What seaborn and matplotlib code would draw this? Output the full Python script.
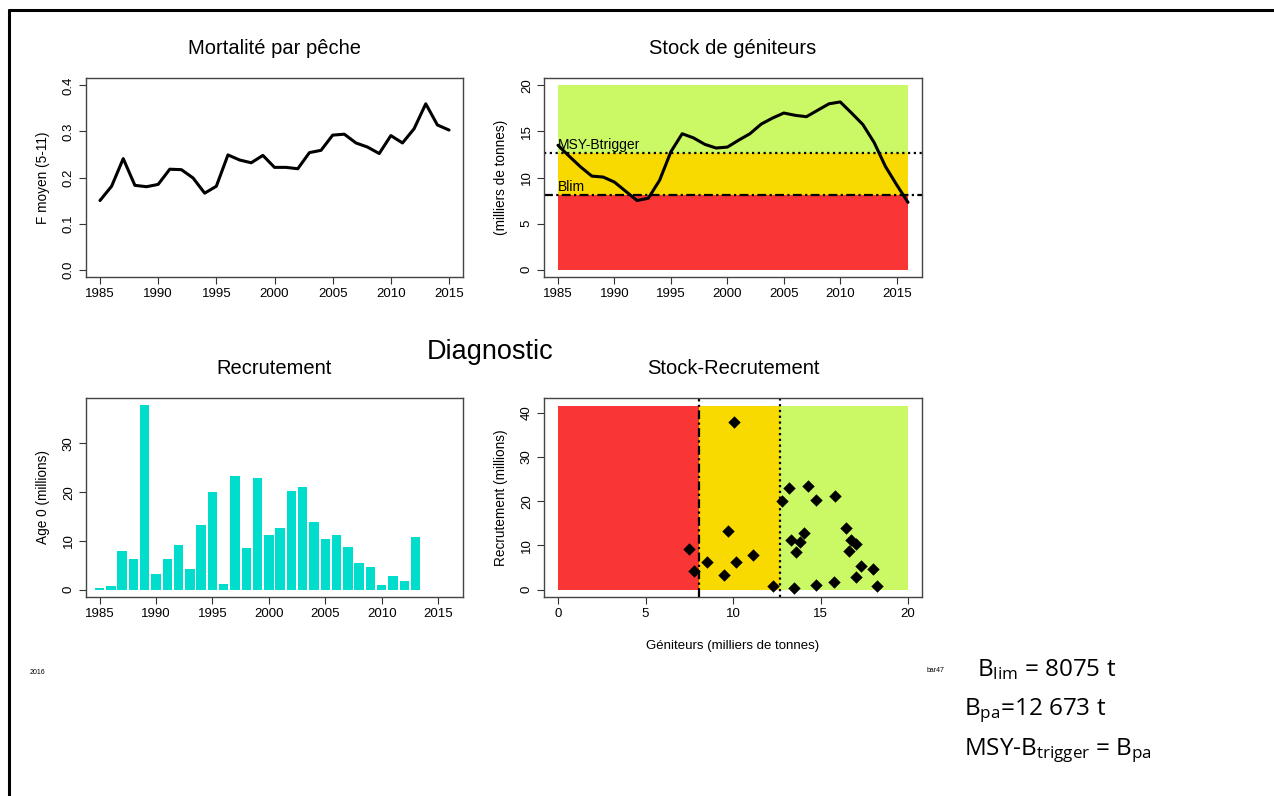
import numpy as np
import pandas as pd
import matplotlib
matplotlib.use("Agg")
import matplotlib.pyplot as plt
from matplotlib.lines import Line2D
import seaborn as sns

# ---------------- data ----------------
years_f = list(range(1985, 2016))
f_mean = [0.150, 0.181, 0.241, 0.183, 0.180, 0.185, 0.218, 0.217, 0.199, 0.166,
          0.181, 0.249, 0.238, 0.232, 0.248, 0.222, 0.222, 0.219, 0.254, 0.259,
          0.292, 0.294, 0.275, 0.266, 0.252, 0.291, 0.275, 0.306, 0.360, 0.314,
          0.303]

years_ssb = list(range(1985, 2017))
ssb = [13.5, 12.3, 11.15, 10.15, 10.05, 9.5, 8.5, 7.5, 7.75, 9.7,
       12.8, 14.75, 14.3, 13.6, 13.2, 13.3, 14.05, 14.75, 15.8, 16.45,
       17.0, 16.75, 16.6, 17.3, 18.0, 18.2, 17.0, 15.75, 13.8, 11.2,
       9.2, 7.3]

years_rec = list(range(1985, 2014))
recruits = [0.4, 0.75, 7.9, 6.2, 37.8, 3.3, 6.2, 9.1, 4.2, 13.2,
            20.1, 1.1, 23.4, 8.5, 23.0, 11.2, 12.7, 20.2, 21.1, 13.9,
            10.3, 11.2, 8.7, 5.4, 4.6, 0.9, 2.9, 1.7, 10.7]

blim = 8.075
bpa = 12.673
year_ticks = [1985, 1990, 1995, 2000, 2005, 2010, 2015]

# ---------------- style ----------------
sns.set_theme(style="white")
plt.rcParams['font.family'] = ['Liberation Sans', 'DejaVu Sans']
plt.rcParams['text.color'] = 'black'
plt.rcParams['axes.labelcolor'] = 'black'
plt.rcParams['axes.titlecolor'] = 'black'
plt.rcParams['xtick.color'] = 'black'
plt.rcParams['ytick.color'] = 'black'
plt.rcParams['axes.edgecolor'] = '#444444'
plt.rcParams['axes.linewidth'] = 1.0

RED = '#F93535'
YEL = '#F9DA00'
GRN = '#CBF966'
BAR = '#00DDCC'

W, H = 1274, 796
fig = plt.figure(figsize=(W / 100, H / 100), dpi=100)


def px_axes(l, t, r, b):
    return fig.add_axes([l / W, 1 - b / H, (r - l) / W, (b - t) / H])


ax1 = px_axes(86, 78, 463, 277)
ax2 = px_axes(544, 78, 922, 277)
ax3 = px_axes(86, 398, 463, 597)
ax4 = px_axes(544, 398, 922, 597)


def style_axes(ax):
    for s in ax.spines.values():
        s.set_visible(True)
        s.set_color('#444444')
        s.set_linewidth(1.0)
    ax.tick_params(axis='both', which='both', direction='out', length=5,
                   width=0.8, color='#333333', labelsize=9.5, pad=3,
                   bottom=True, left=True, labelcolor='black')
    for lab in ax.get_yticklabels():
        lab.set_rotation(90)
        lab.set_va('center')
    ax.grid(False)


title_kw = dict(fontsize=14.5, pad=17)
lab_kw = dict(fontsize=9.8)

# Panel 1: fishing mortality
df_f = pd.DataFrame({'year': years_f, 'F': f_mean})
sns.lineplot(data=df_f, x='year', y='F', ax=ax1, color='black', linewidth=2.2)
ax1.set_xlim(1983.8, 2016.2)
ax1.set_ylim(-0.016, 0.416)
ax1.set_xticks(year_ticks)
ax1.set_yticks([0.0, 0.1, 0.2, 0.3, 0.4])
ax1.set_yticklabels(['0.0', '0.1', '0.2', '0.3', '0.4'])
ax1.set_xlabel('')
ax1.set_ylabel('F moyen (5-11)', **lab_kw, labelpad=9)
ax1.set_title('Mortalité par pêche', **title_kw)
style_axes(ax1)

# Panel 2: SSB
x0, x1 = years_ssb[0], years_ssb[-1]
ax2.fill_between([x0, x1], 0, blim, color=RED, linewidth=0, zorder=0)
ax2.fill_between([x0, x1], blim, bpa, color=YEL, linewidth=0, zorder=0)
ax2.fill_between([x0, x1], bpa, 20, color=GRN, linewidth=0, zorder=0)
ax2.axhline(bpa, color='black', linestyle=(0, (1, 1.6)), linewidth=1.6)
ax2.axhline(blim, color='black', linestyle=(0, (4, 1.5, 1, 1.5)), linewidth=1.6)
df_s = pd.DataFrame({'year': years_ssb, 'ssb': ssb})
sns.lineplot(data=df_s, x='year', y='ssb', ax=ax2, color='black', linewidth=2.2)
ax2.text(x0, bpa + 0.1, 'MSY-Btrigger', fontsize=10, ha='left', va='bottom')
ax2.text(x0, blim + 0.1, 'Blim', fontsize=10, ha='left', va='bottom')
ax2.set_xlim(1983.76, 2017.24)
ax2.set_ylim(-0.8, 20.8)
ax2.set_xticks(year_ticks)
ax2.set_yticks([0, 5, 10, 15, 20])
ax2.set_xlabel('')
ax2.set_ylabel('(milliers de tonnes)', **lab_kw, labelpad=9)
ax2.set_title('Stock de géniteurs', **title_kw)
style_axes(ax2)

# Panel 3: recruitment
df_r = pd.DataFrame({'year': years_rec, 'rec': recruits})
sns.barplot(data=df_r, x='year', y='rec', ax=ax3, native_scale=True,
            color=BAR, saturation=1, width=0.84, errorbar=None,
            edgecolor='none')
ax3.set_xlim(1983.8, 2017.2)
ax3.set_ylim(-1.5, 39.3)
ax3.set_xticks(year_ticks)
ax3.set_xticklabels([str(y) for y in year_ticks])
ax3.set_yticks([0, 10, 20, 30])
ax3.set_xlabel('')
ax3.set_ylabel('Age 0 (millions)', **lab_kw, labelpad=9)
ax3.set_title('Recrutement', **title_kw)
style_axes(ax3)

# Panel 4: stock-recruitment
ymax_sr = max(recruits) * 1.1
ax4.fill_between([0, blim], 0, ymax_sr, color=RED, linewidth=0, zorder=0)
ax4.fill_between([blim, bpa], 0, ymax_sr, color=YEL, linewidth=0, zorder=0)
ax4.fill_between([bpa, 20], 0, ymax_sr, color=GRN, linewidth=0, zorder=0)
ax4.axvline(blim, color='black', linestyle=(0, (4, 1.5, 1, 1.5)), linewidth=1.6)
ax4.axvline(bpa, color='black', linestyle=(0, (1, 1.6)), linewidth=1.6)
df_sr = pd.DataFrame({'ssb': ssb[:len(recruits)], 'rec': recruits})
sns.scatterplot(data=df_sr, x='ssb', y='rec', ax=ax4, marker='D', s=40,
                color='black', edgecolor='black', linewidth=0, zorder=5)
ax4.set_xlim(-0.8, 20.8)
ax4.set_ylim(-1.66, 43.3)
ax4.set_xticks([0, 5, 10, 15, 20])
ax4.set_yticks([0, 10, 20, 30, 40])
ax4.set_xlabel('Géniteurs (milliers de tonnes)', fontsize=9.5, labelpad=14)
ax4.set_ylabel('Recrutement (millions)', **lab_kw, labelpad=9)
ax4.set_title('Stock-Recrutement', **title_kw)
style_axes(ax4)

# main title & annotations
fig.text(490 / W, 1 - 352 / H, 'Diagnostic', fontsize=19.5, ha='center', va='center')
fig.text(30 / W, 1 - 672 / H, '2016', fontsize=5, ha='left', va='center')
fig.text(927 / W, 1 - 671 / H, 'bar47', fontsize=5, ha='left', va='center')

plt.rcParams['mathtext.fontset'] = 'custom'
plt.rcParams['mathtext.rm'] = 'Open Sans'
plt.rcParams['mathtext.it'] = 'Open Sans'
tkw = dict(fontsize=17.5, ha='left', va='center', family=['Open Sans', 'DejaVu Sans'])
fig.text(977 / W, 1 - 670 / H, r'B$_{\mathrm{lim}}$ = 8075 t', **tkw)
fig.text(964 / W, 1 - 711 / H, r'B$_{\mathrm{pa}}$=12 673 t', **tkw)
fig.text(964 / W, 1 - 751 / H, r'MSY-B$_{\mathrm{trigger}}$ = B$_{\mathrm{pa}}$', **tkw)

# outer frame (left and top edges)
fig.add_artist(Line2D([9 / W, 9 / W], [0, 1 - 10 / H], transform=fig.transFigure,
                      color='black', linewidth=2.2))
fig.add_artist(Line2D([9 / W, 1], [1 - 10 / H, 1 - 10 / H], transform=fig.transFigure,
                      color='black', linewidth=2.2))

fig.savefig('out.png', dpi=100)
